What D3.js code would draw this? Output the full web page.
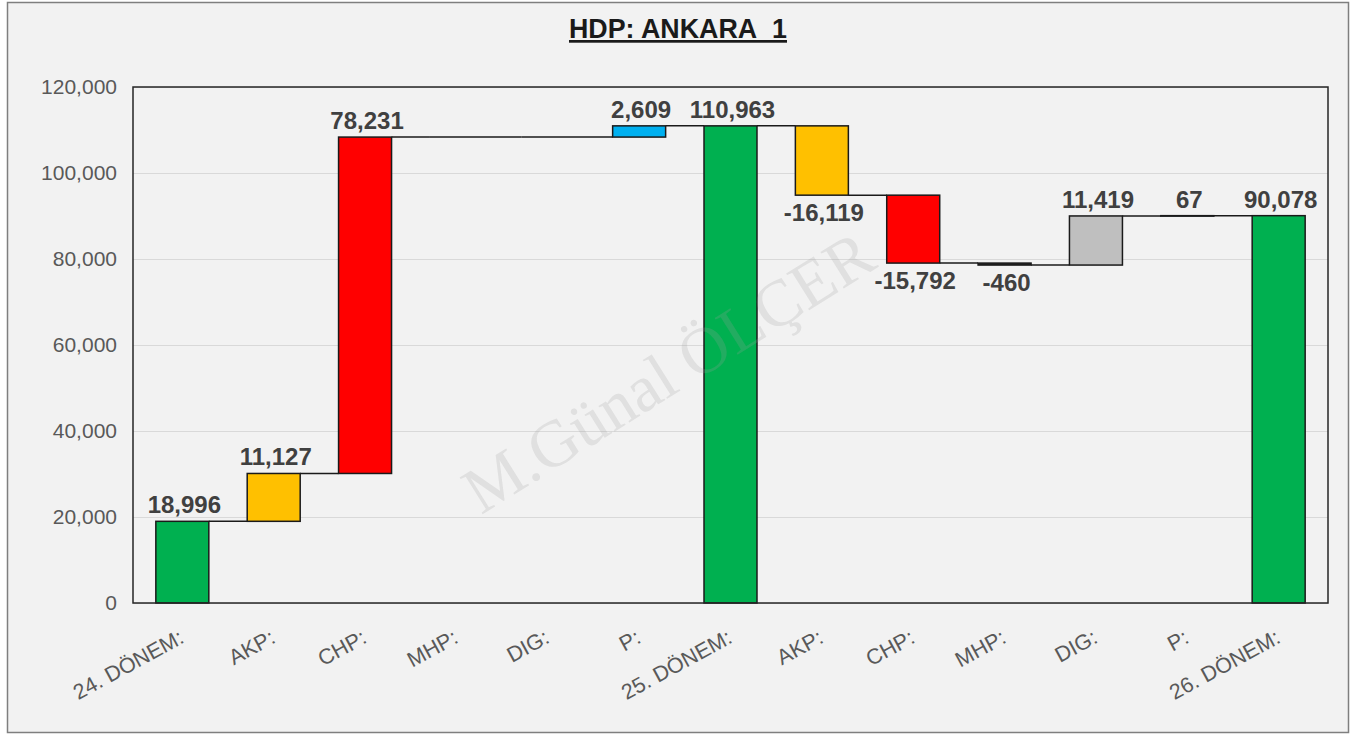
<!DOCTYPE html>
<html lang="tr">
<head>
    <meta charset="utf-8">
    <title>HDP: ANKARA_1</title>
    <script src="https://d3js.org/d3.v7.min.js"></script>
    <style type="text/css">
        body{
            margin: 0;
            background: #ffffff;
        }
        svg{
            display: block;
            font-family: "Liberation Sans", Arial, sans-serif;
        }
        .labels{
            fill: #404040;
            font-size: 24px;
            font-weight: bold;
        }
    </style>
</head>
<body>
    <div id="chart"></div>

    <script type="text/javascript">

        // chart data
        const categories = ["24. DÖNEM:", "AKP:", "CHP:", "MHP:", "DIG:", "P:", "25. DÖNEM:",
                            "AKP:", "CHP:", "MHP:", "DIG:", "P:", "26. DÖNEM:"];
        const values = [18996, 11127, 78231, 0, 0, 2609, 110963, -16119, -15792, -460, 11419, 67, 90078];
        const totals = [true, false, false, false, false, false, true, false, false, false, false, false, true];
        const yTicks = [0, 20000, 40000, 60000, 80000, 100000, 120000];

        const partyColor = {
            "DÖNEM": "#00b050",
            "AKP": "#ffc000",
            "CHP": "#ff0000",
            "MHP": "#262626",
            "DIG": "#bfbfbf",
            "P": "#00b0f0"
        };

        const W = 1369, H = 736;
        const plot = {left: 133, right: 1328, top: 87, bottom: 603};
        const fmt = v => d3.format(",")(v).replace("\u2212", "-");

        // running totals for the waterfall
        let run = 0;
        const bars = values.map((v, i) => {
            let start, end;
            if (totals[i]) { start = 0; end = v; run = v; }
            else { start = run; end = run + v; run = end; }
            const key = categories[i].indexOf("DÖNEM") >= 0 ? "DÖNEM" : categories[i].replace(":", "");
            return {i: i, v: v, start: start, end: end, total: totals[i], color: partyColor[key]};
        });

        const svg = d3.select("#chart").append("svg")
            .attr("width", W)
            .attr("height", H);

        // frame
        svg.append("rect")
            .attr("x", 7.5).attr("y", 2.5)
            .attr("width", 1341).attr("height", 730)
            .attr("fill", "#f2f2f2")
            .attr("stroke", "#7f7f7f")
            .attr("stroke-width", 1.5);

        const x = d3.scaleBand()
            .domain(d3.range(categories.length))
            .range([plot.left, plot.right])
            .paddingInner(0.42)
            .paddingOuter(0.25);

        const y = d3.scaleLinear()
            .domain([0, 120000])
            .range([plot.bottom, plot.top]);

        // gridlines
        svg.append("g")
            .attr("transform", `translate(${plot.left},0)`)
            .call(d3.axisLeft(y).tickValues(yTicks).tickSize(-(plot.right - plot.left)).tickFormat(""))
            .call(g => g.select(".domain").remove())
            .call(g => g.selectAll("line").attr("stroke", "#d9d9d9").attr("stroke-width", 1));

        // y axis labels
        svg.append("g")
            .attr("transform", `translate(${plot.left - 7},0)`)
            .call(d3.axisLeft(y).tickValues(yTicks).tickSize(0).tickPadding(9).tickFormat(d3.format(",")))
            .call(g => g.select(".domain").remove())
            .call(g => g.selectAll("text").attr("font-size", 21).attr("fill", "#595959"));

        // x axis labels
        svg.append("g")
            .attr("transform", `translate(0,${plot.bottom})`)
            .call(d3.axisBottom(x).tickSize(0).tickFormat(i => categories[i]))
            .call(g => g.select(".domain").remove())
            .call(g => g.selectAll("text")
                .attr("font-size", 21.5)
                .attr("fill", "#595959")
                .attr("text-anchor", "end")
                .attr("dy", null)
                .attr("y", 0)
                .attr("transform", "translate(3,39) rotate(-28.5)"));

        // connectors (continue straight through empty categories)
        svg.append("g")
            .selectAll("line")
            .data(bars.slice(0, -1))
            .enter()
            .append("line")
            .attr("x1", d => d.v === 0 ? x(d.i) : x(d.i) + x.bandwidth())
            .attr("x2", d => x(d.i + 1))
            .attr("y1", d => y(d.end))
            .attr("y2", d => y(d.end))
            .attr("stroke", "#1a1a1a")
            .attr("stroke-width", 1.5);

        // bars
        svg.append("g")
            .selectAll("rect")
            .data(bars.filter(d => d.v !== 0))
            .enter()
            .append("rect")
            .attr("x", d => x(d.i))
            .attr("y", d => y(Math.max(d.start, d.end)))
            .attr("width", x.bandwidth())
            .attr("height", d => Math.max(0.5, Math.abs(y(d.start) - y(d.end))))
            .attr("fill", d => d.color)
            .attr("stroke", "#1a1a1a")
            .attr("stroke-width", 1.5);

        // value labels
        svg.append("g")
            .selectAll("text")
            .data(bars.filter(d => d.v !== 0))
            .enter()
            .append("text")
            .attr("class", "labels")
            .attr("x", d => x(d.i) + x.bandwidth() / 2 + 2)
            .attr("y", d => d.v >= 0 ? y(d.end) - 8 : y(d.end) + 26)
            .attr("text-anchor", "middle")
            .text(d => fmt(d.v));

        // plot border
        svg.append("rect")
            .attr("x", plot.left).attr("y", plot.top)
            .attr("width", plot.right - plot.left)
            .attr("height", plot.bottom - plot.top)
            .attr("fill", "none")
            .attr("stroke", "#262626")
            .attr("stroke-width", 1.5);

        // title
        svg.append("text")
            .attr("x", 569)
            .attr("y", 38)
            .attr("font-size", 27)
            .attr("font-weight", "bold")
            .attr("fill", "#1a1a1a")
            .attr("text-decoration", "underline")
            .attr("textLength", 218)
            .attr("lengthAdjust", "spacingAndGlyphs")
            .text("HDP: ANKARA_1");

        // watermark
        svg.append("text")
            .attr("transform", "translate(672,378) rotate(-32)")
            .attr("text-anchor", "middle")
            .attr("dominant-baseline", "middle")
            .attr("font-family", "'Liberation Serif', 'Times New Roman', serif")
            .attr("font-size", 66)
            .attr("fill", "#a0a0a0")
            .attr("fill-opacity", 0.22)
            .text("M.Günal ÖLÇER");
    </script>
</body>
</html>
